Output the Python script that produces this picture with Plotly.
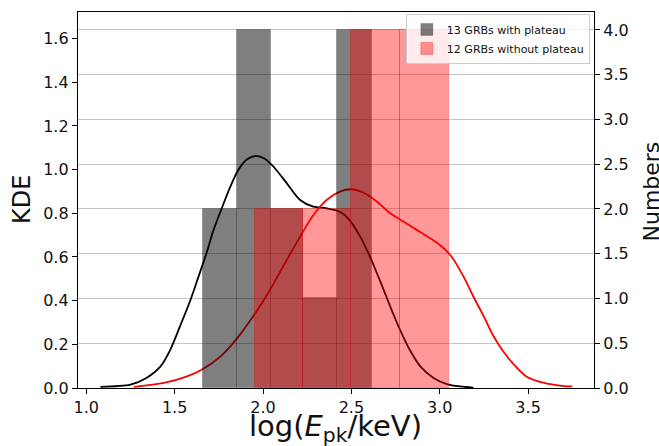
import plotly.graph_objects as go

# ---- data ----
gray_edges = [1.661, 1.853, 2.047, 2.229, 2.418, 2.615]
gray_counts = [2, 4, 2, 1, 4]
red_edges = [1.957, 2.229, 2.500, 2.775, 3.053]
red_counts = [2, 2, 4, 4]

black_kde_x = [1.08, 1.25, 1.34, 1.42, 1.475, 1.53, 1.59, 1.635, 1.68, 1.72, 1.77, 1.815,
               1.86, 1.91, 1.96, 2.01, 2.06, 2.135, 2.21, 2.285, 2.36, 2.435, 2.49, 2.55,
               2.605, 2.66, 2.72, 2.775, 2.83, 2.89, 2.965, 3.04, 3.115, 3.19]
black_kde_y = [0.005, 0.015, 0.046, 0.099, 0.175, 0.282, 0.404, 0.510, 0.617, 0.724, 0.830, 0.922,
               0.998, 1.047, 1.063, 1.050, 1.013, 0.937, 0.861, 0.830, 0.823, 0.807, 0.769, 0.693,
               0.602, 0.495, 0.373, 0.267, 0.175, 0.099, 0.046, 0.018, 0.007, 0.002]
red_kde_x = [1.27, 1.44, 1.57, 1.66, 1.76, 1.85, 1.95, 2.04, 2.135, 2.21, 2.285, 2.36, 2.435,
             2.50, 2.57, 2.645, 2.72, 2.795, 2.87, 2.945, 3.00, 3.06, 3.135, 3.19, 3.25, 3.30,
             3.36, 3.42, 3.49, 3.59, 3.68, 3.75]
red_kde_y = [0.005, 0.023, 0.053, 0.087, 0.145, 0.224, 0.335, 0.450, 0.587, 0.693, 0.792, 0.861, 0.899,
             0.910, 0.894, 0.853, 0.800, 0.762, 0.724, 0.686, 0.655, 0.609, 0.510, 0.419, 0.327, 0.244,
             0.167, 0.107, 0.053, 0.023, 0.011, 0.007]

labels = ["13 GRBs with plateau", "12 GRBs without plateau"]
x_ticks = [1.0, 1.5, 2.0, 2.5, 3.0, 3.5]


def centers(edges):
    return [(a + b) / 2 for a, b in zip(edges[:-1], edges[1:])]


def widths(edges):
    return [b - a for a, b in zip(edges[:-1], edges[1:])]


fig = go.Figure()

# KDE curves (left axis, drawn beneath bars)
fig.add_trace(go.Scatter(x=black_kde_x, y=black_kde_y, mode="lines",
                         line=dict(color="black", width=1.8, shape="spline", smoothing=0.8),
                         showlegend=False, yaxis="y", hoverinfo="skip"))
fig.add_trace(go.Scatter(x=red_kde_x, y=red_kde_y, mode="lines",
                         line=dict(color="red", width=1.8, shape="spline", smoothing=0.8),
                         showlegend=False, yaxis="y", hoverinfo="skip"))

# histograms (right axis)
fig.add_trace(go.Bar(x=centers(gray_edges), y=gray_counts, width=widths(gray_edges), name=labels[0],
                     marker=dict(color="rgba(0,0,0,0.5)", line=dict(color="rgba(0,0,0,0.2)", width=1)),
                     yaxis="y2"))
fig.add_trace(go.Bar(x=centers(red_edges), y=red_counts, width=widths(red_edges), name=labels[1],
                     marker=dict(color="rgba(255,0,0,0.4)", line=dict(color="rgba(235,0,0,0.3)", width=1)),
                     yaxis="y2"))

axis_common = dict(showline=True, linecolor="black", linewidth=1.3, ticks="outside", ticklen=5,
                   tickcolor="black", zeroline=False, automargin=False)

fig.update_layout(
    width=659, height=446,
    margin=dict(l=78, r=65, t=12, b=58),
    paper_bgcolor="white", plot_bgcolor="white",
    barmode="overlay", bargap=0,
    font=dict(family="DejaVu Sans", color="#111", size=16),
    xaxis=dict(range=[0.953, 3.873], tickvals=x_ticks, ticktext=[f"{v:.1f}" for v in x_ticks],
               mirror=True, showgrid=False, **axis_common),
    yaxis=dict(range=[0, 1.7216], dtick=0.2, tickformat=".1f", showgrid=False, **axis_common),
    yaxis2=dict(range=[0, 4.2], dtick=0.5, tickformat=".1f", overlaying="y", side="right",
                showgrid=True, gridcolor="#c4c4c4", gridwidth=1, **axis_common),
    legend=dict(x=0.992, y=0.995, xanchor="right", yanchor="top", bgcolor="rgba(255,255,255,0.8)",
                bordercolor="#cccccc", borderwidth=1, font=dict(size=11), tracegroupgap=0),
    annotations=[
        dict(text="KDE", xref="paper", yref="paper", x=-0.1085, y=0.5, textangle=-90,
             showarrow=False, font=dict(size=24), xanchor="center", yanchor="middle"),
        dict(text="Numbers", xref="paper", yref="paper", x=1.1105, y=0.5226, textangle=-90,
             showarrow=False, font=dict(size=22), xanchor="center", yanchor="middle"),
        dict(text="log(<i>E</i><sub>pk</sub>/keV)", xref="paper", yref="paper", x=0.4981, y=-0.05,
             showarrow=False, font=dict(size=29), xanchor="center", yanchor="top"),
    ],
)

fig.write_html("out.html", config={"displayModeBar": False},
               post_script="document.body.style.margin='0';document.body.style.padding='0';")
